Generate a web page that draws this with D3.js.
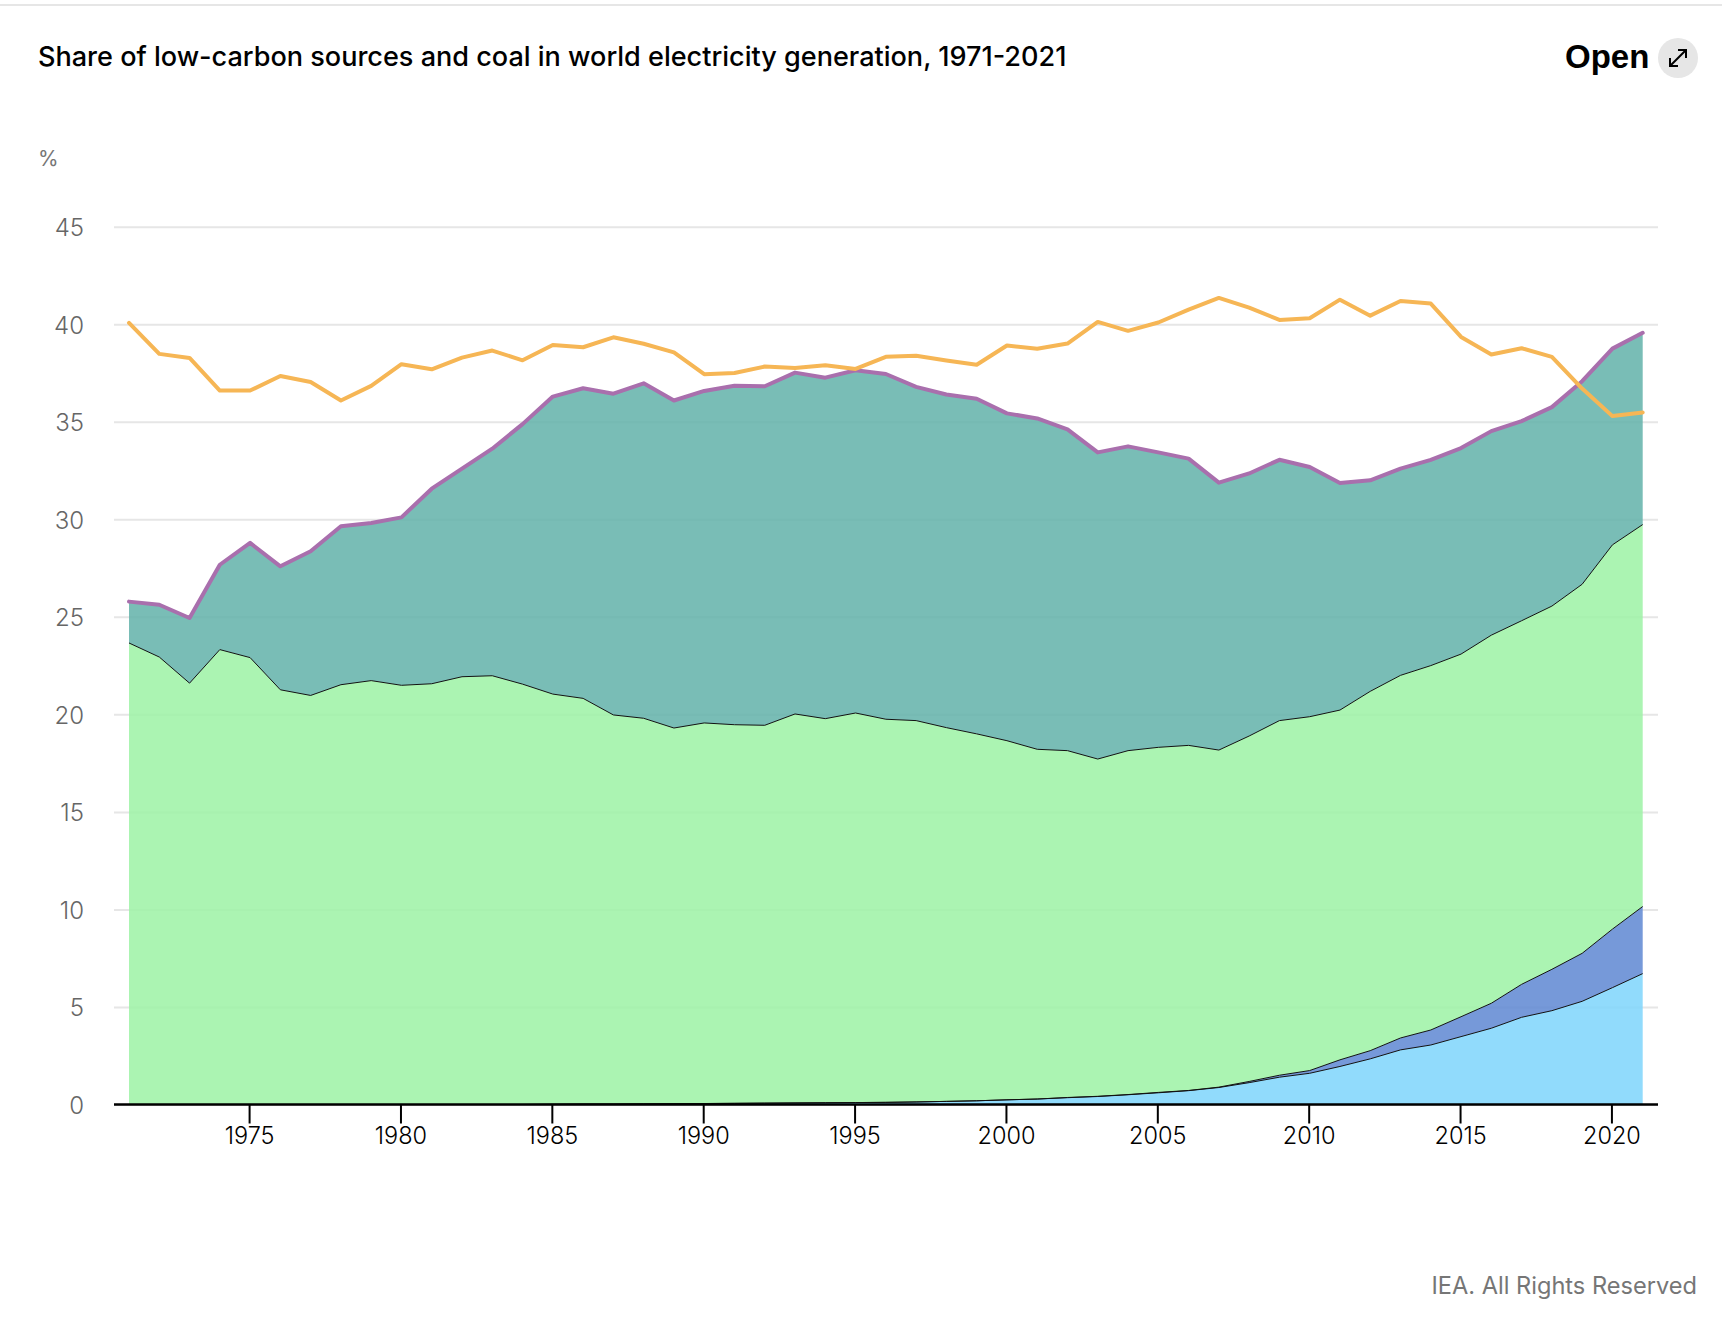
<!DOCTYPE html>
<html>
<head>
<meta charset="UTF-8">
<title>Share of low-carbon sources and coal in world electricity generation, 1971-2021</title>
<style>
body { margin: 0; background: #fff; }
svg { display: block; }
text { font-family: "Inter", sans-serif; }
.title { font-size: 27.06px; font-weight: 500; fill: #000; }
.unit, .source { fill: #767676; }
.yaxis text { font-size: 24px; font-weight: 300; fill: #666; }
.xaxis text { font-size: 23.5px; font-weight: 300; fill: #000; }
.open { font-family: "Liberation Sans", sans-serif; font-size: 33px; font-weight: 700; fill: #000; }
</style>
</head>
<body>
<script src="https://cdn.jsdelivr.net/npm/d3@7"></script>
<script>

var years = d3.range(1971, 2022);

// cumulative levels, %
var windTop = [0,0,0,0,0,0,0,0,0,0, 0,0,0,0,0.01,0.02,0.02,0.03,0.04,0.05,
  0.06,0.07,0.08,0.09,0.1,0.11,0.13,0.16,0.19,0.24, 0.28,0.35,0.41,0.5,0.6,0.71,0.87,1.12,1.4,1.6,
  1.95,2.34,2.8,3.05,3.48,3.91,4.47,4.81,5.29,5.99,6.71];

var solarTop = [0,0,0,0,0,0,0,0,0,0, 0,0,0,0,0.01,0.02,0.02,0.03,0.04,0.05,
  0.06,0.07,0.08,0.09,0.1,0.11,0.13,0.16,0.19,0.24, 0.28,0.36,0.42,0.51,0.62,0.72,0.89,1.18,1.5,1.74,
  2.29,2.76,3.41,3.82,4.5,5.19,6.16,6.93,7.75,8.99,10.15];

var hydroTop = [23.66,22.94,21.6,23.32,22.91,21.26,20.97,21.52,21.73,21.49,
  21.57,21.93,21.98,21.55,21.04,20.82,19.97,19.8,19.3,19.56,
  19.47,19.44,20.02,19.78,20.07,19.75,19.68,19.32,19.0,18.65,
  18.21,18.14,17.71,18.14,18.31,18.41,18.17,18.89,19.68,19.88,
  20.22,21.18,22.0,22.5,23.09,24.06,24.8,25.55,26.67,28.69,29.73];

var lowCarbon = [25.78,25.62,24.94,27.67,28.79,27.59,28.36,29.64,29.81,30.1,
  31.57,32.6,33.62,34.88,36.29,36.72,36.44,36.97,36.09,36.58,
  36.85,36.82,37.52,37.26,37.64,37.45,36.79,36.4,36.18,35.43,
  35.17,34.61,33.43,33.74,33.43,33.11,31.88,32.35,33.05,32.68,
  31.86,32.0,32.6,33.05,33.65,34.52,35.03,35.75,37.08,38.75,39.56];

var coal = [40.07,38.48,38.27,36.6,36.6,37.35,37.04,36.09,36.84,37.95,
  37.69,38.29,38.65,38.15,38.94,38.82,39.33,39.0,38.56,37.44,
  37.5,37.83,37.76,37.9,37.71,38.33,38.38,38.14,37.92,38.91,
  38.74,39.01,40.12,39.66,40.09,40.75,41.35,40.85,40.22,40.31,
  41.26,40.44,41.19,41.06,39.35,38.45,38.77,38.33,36.7,35.29,35.48];

var yTicks = [0, 5, 10, 15, 20, 25, 30, 35, 40, 45];
var xTicks = [1975, 1980, 1985, 1990, 1995, 2000, 2005, 2010, 2015, 2020];

var width = 1722, height = 1330;

var svg = d3.select("body").append("svg")
    .attr("width", width)
    .attr("height", height);

var x = d3.scaleLinear().domain([1971, 2021]).range([129, 1642.7]);
var y = d3.scaleLinear().domain([0, 45]).range([1104.5, 226.7]);

// rule along the top of the page
svg.append("rect")
    .attr("x", 0).attr("y", 4)
    .attr("width", width).attr("height", 2)
    .attr("fill", "#e6e6e6");

svg.append("text").attr("class", "title")
    .attr("x", 38).attr("y", 65.7)
    .text("Share of low-carbon sources and coal in world electricity generation, 1971-2021");

svg.append("text").attr("class", "open")
    .attr("x", 1565).attr("y", 68)
    .text("Open");

// expand button
var btn = svg.append("g").attr("transform", "translate(1678,58)");
btn.append("circle").attr("r", 20).attr("fill", "#e6e6e6");
btn.append("path")
    .attr("d", "M-8,8 L8,-8 M0,-8 L8,-8 L8,0 M-8,0 L-8,8 L0,8")
    .attr("fill", "none")
    .attr("stroke", "#000")
    .attr("stroke-width", 2);

svg.append("text").attr("class", "unit")
    .attr("x", 38).attr("y", 166)
    .style("font-size", "21px")
    .text("%");

svg.append("text").attr("class", "source")
    .attr("x", 1697).attr("y", 1294)
    .attr("text-anchor", "end")
    .style("font-size", "23.6px")
    .text("IEA. All Rights Reserved");

// grid + y labels
var yAxis = svg.append("g").attr("class", "yaxis")
    .attr("transform", "translate(114,0)")
    .call(d3.axisLeft(y).tickValues(yTicks).tickSize(-1544).tickPadding(30));
yAxis.select(".domain").remove();
yAxis.selectAll("line").attr("stroke", "#e6e6e6").attr("stroke-width", 2);
yAxis.selectAll("text").attr("dy", "0.37em");

// stacked bands, each one from the level below it to its own level
var bands = [
  { low: null, high: windTop, color: "#7ed5fc" },
  { low: windTop, high: solarTop, color: "#5e87d2" },
  { low: solarTop, high: hydroTop, color: "#9cf2a5" },
  { low: hydroTop, high: lowCarbon, color: "#61b1a9" }
];

bands.forEach(function(b) {
  var area = d3.area()
      .x(function(d) { return x(d); })
      .y0(function(d, i) { return y(b.low ? b.low[i] : 0); })
      .y1(function(d, i) { return y(b.high[i]); });

  svg.append("path")
      .attr("d", area(years))
      .attr("fill", b.color)
      .attr("fill-opacity", 0.85);
});

function levelLine(values) {
  return d3.line()
      .x(function(d) { return x(d); })
      .y(function(d, i) { return y(values[i]); })(years);
}

// thin black edges on the lower bands
[windTop, solarTop, hydroTop].forEach(function(v) {
  svg.append("path")
      .attr("d", levelLine(v))
      .attr("fill", "none")
      .attr("stroke", "#111")
      .attr("stroke-width", 1);
});

// x axis, ticks sit about a pixel left of the data positions in the original
var xAxis = svg.append("g").attr("class", "xaxis")
    .attr("transform", "translate(-1," + y(0) + ")")
    .call(d3.axisBottom(x).tickValues(xTicks).tickFormat(d3.format("d")).tickSize(19).tickPadding(4));
xAxis.select(".domain")
    .attr("d", "M115,0 H1659")
    .attr("stroke", "#000")
    .attr("stroke-width", 2.5);
xAxis.selectAll("line").attr("stroke", "#000").attr("stroke-width", 2);

svg.append("path")
    .attr("d", levelLine(lowCarbon))
    .attr("fill", "none")
    .attr("stroke", "#a96fad")
    .attr("stroke-width", 4)
    .attr("stroke-linecap", "round")
    .attr("stroke-linejoin", "round");

svg.append("path")
    .attr("d", levelLine(coal))
    .attr("fill", "none")
    .attr("stroke", "#f6b655")
    .attr("stroke-width", 4)
    .attr("stroke-linecap", "round")
    .attr("stroke-linejoin", "round");

</script>
</body>
</html>
